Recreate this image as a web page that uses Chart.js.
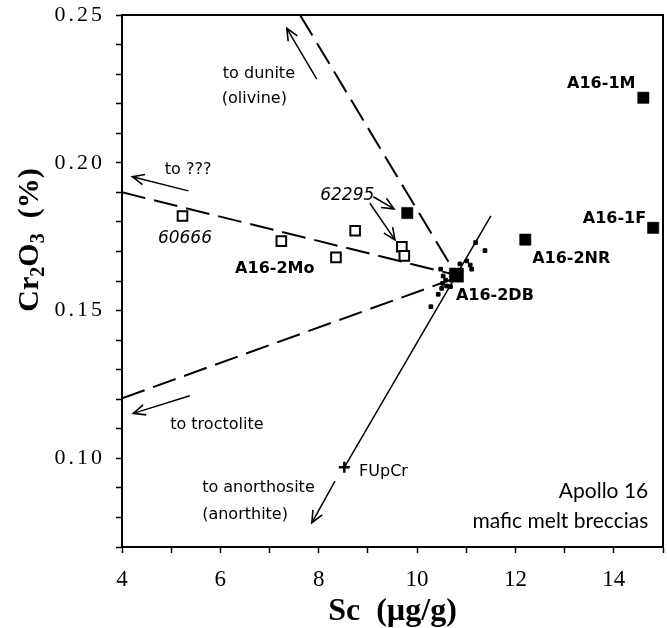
<!DOCTYPE html>
<html><head><meta charset="utf-8">
<script src="https://cdn.jsdelivr.net/npm/chart.js@4"></script>
<style>html,body{margin:0;padding:0;background:#fff}canvas{display:block}</style>
</head><body>
<canvas id="c" width="667" height="628"></canvas>
<script>
// ---- axes ----
const xMin = 4, xMax = 15, yMin = 0.07, yMax = 0.25;
const xLabelValues = [4, 6, 8, 10, 12, 14];
const yLabelValues = [0.10, 0.15, 0.20, 0.25];

// ---- samples ----
const filledSc = [14.6, 14.8, 12.2, 9.8];          // A16-1M, A16-1F, A16-2NR, 62295
const filledCr = [0.222, 0.178, 0.174, 0.183];
const dbSc = [10.8];                                 // A16-2DB
const dbCr = [0.162];
const openSc = [5.23, 7.24, 8.35, 8.74, 9.69, 9.74]; // 60666, A16-2Mo ..., 62295
const openCr = [0.182, 0.1735, 0.168, 0.177, 0.1716, 0.1685];
const smallSc = [10.48, 10.53, 10.58, 10.52, 10.60, 10.68, 10.43, 10.28, 10.50, 10.87, 11.01, 11.08, 11.11, 11.19, 11.38];
const smallCr = [0.164, 0.1617, 0.1603, 0.1592, 0.1583, 0.1581, 0.1555, 0.1513, 0.1575, 0.1658, 0.1668, 0.1654, 0.164, 0.173, 0.1703];
const fupcrSc = [8.52];
const fupcrCr = [0.097];

// ---- trend lines ----
const duniteDashSc = [7.62, 10.8],  duniteDashCr = [0.25, 0.162];
const unknownDashSc = [4, 10.8],    unknownDashCr = [0.19, 0.162];
const troctDashSc = [4, 10.7],      troctDashCr = [0.1203, 0.1605];
const mixLineSc = [11.5, 8.53],     mixLineCr = [0.182, 0.0972];

// ---- arrows (tail -> head) ----
const arrowDuniteSc = [7.96, 7.35],  arrowDuniteCr = [0.2283, 0.2455];
const arrowUnkSc = [5.35, 4.21],     arrowUnkCr = [0.1905, 0.1953];
const arrowTroctSc = [5.38, 4.23],   arrowTroctCr = [0.1212, 0.1152];
const arrowAnorSc = [8.33, 7.86],    arrowAnorCr = [0.0923, 0.0782];
const arrow62aSc = [9.11, 9.53],     arrow62aCr = [0.1885, 0.1844];
const arrow62bSc = [9.04, 9.55],     arrow62bCr = [0.1863, 0.1739];

const pts = (xs, ys) => xs.map((x, i) => ({x, y: ys[i]}));

const comic = '"DejaVu Sans", sans-serif';
const notes = [
  {t: 'to dunite', x: 6.05, y: 0.2300, font: '16px ' + comic},
  {t: '(olivine)', x: 6.03, y: 0.2216, font: '16px ' + comic},
  {t: 'to ???', x: 4.87, y: 0.1975, font: '16px ' + comic},
  {t: '62295', x: 8.03, y: 0.1889, font: 'italic 17px ' + comic},
  {t: '60666', x: 4.73, y: 0.1742, font: 'italic 17px ' + comic},
  {t: 'A16-2Mo', x: 6.30, y: 0.1641, font: 'bold 16px ' + comic},
  {t: 'A16-1M', x: 13.05, y: 0.2267, font: 'bold 16px ' + comic},
  {t: 'A16-1F', x: 13.37, y: 0.181, font: 'bold 16px ' + comic},
  {t: 'A16-2NR', x: 12.34, y: 0.1676, font: 'bold 16px ' + comic},
  {t: 'A16-2DB', x: 10.79, y: 0.1551, font: 'bold 16px ' + comic},
  {t: 'to troctolite', x: 4.98, y: 0.1113, font: '16px ' + comic},
  {t: 'FUpCr', x: 8.82, y: 0.0954, font: '16px ' + comic},
  {t: 'to anorthosite', x: 5.63, y: 0.0900, font: '16px ' + comic},
  {t: '(anorthite)', x: 5.63, y: 0.0808, font: '16px ' + comic},
  {t: 'Apollo 16', x: 14.70, y: 0.0890, font: '21px Lato, sans-serif', align: 'right'},
  {t: 'mafic melt breccias', x: 14.70, y: 0.0788, font: '21px Lato, sans-serif', align: 'right'}
];

const lineDs = (xs, ys, extra) => Object.assign({
  type: 'scatter', data: pts(xs, ys), showLine: true, pointRadius: 0,
  borderColor: '#000', borderWidth: 1.5, fill: false, order: 3
}, extra || {});

const notesPlugin = {
  id: 'notes',
  afterDatasetsDraw(chart) {
    const ctx = chart.ctx, xs = chart.scales.x, ys = chart.scales.y;
    ctx.save();
    ctx.fillStyle = '#000';
    ctx.textBaseline = 'middle';
    notes.forEach(n => {
      ctx.font = n.font;
      ctx.textAlign = n.align || 'left';
      ctx.fillText(n.t, xs.getPixelForValue(n.x), ys.getPixelForValue(n.y));
    });
    // arrow heads
    chart.data.datasets.forEach((ds, i) => {
      if (!ds.arrowHead) return;
      const p = chart.getDatasetMeta(i).data;
      const a = p[p.length - 2], b = p[p.length - 1];
      const ang = Math.atan2(b.y - a.y, b.x - a.x);
      const L = 13, h = 0.42;
      ctx.strokeStyle = '#000';
      ctx.lineWidth = 1.6;
      ctx.beginPath();
      ctx.moveTo(b.x - L * Math.cos(ang - h), b.y - L * Math.sin(ang - h));
      ctx.lineTo(b.x, b.y);
      ctx.lineTo(b.x - L * Math.cos(ang + h), b.y - L * Math.sin(ang + h));
      ctx.stroke();
    });
    ctx.restore();
  },
  afterDraw(chart) {
    const ctx = chart.ctx, a = chart.chartArea;
    ctx.save();
    ctx.strokeStyle = '#000';
    ctx.lineWidth = 2;
    ctx.beginPath();
    ctx.moveTo(a.left, a.top); ctx.lineTo(a.right, a.top); ctx.lineTo(a.right, a.bottom);
    ctx.stroke();
    // y-axis title with subscripts
    ctx.translate(28, 240);
    ctx.rotate(-Math.PI / 2);
    ctx.fillStyle = '#000';
    ctx.textBaseline = 'alphabetic';
    ctx.textAlign = 'left';
    const big = 'bold 30px "Liberation Serif", serif', small = 'bold 20px "Liberation Serif", serif';
    const parts = [['Cr', big, 0], ['2', small, 6], ['O', big, 0], ['3', small, 6], ['  (%)', big, 0]];
    let w = 0;
    parts.forEach(p => { ctx.font = p[1]; w += ctx.measureText(p[0]).width; });
    let x = -w / 2;
    parts.forEach(p => { ctx.font = p[1]; ctx.fillText(p[0], x, 10 + p[2]); x += ctx.measureText(p[0]).width; });
    ctx.restore();
  },
  beforeDraw(chart) {
    const s = chart.scales.y;
    if (s && !s._spaced) {
      const orig = s.drawLabels;
      s.drawLabels = function (area) {
        this.ctx.save();
        this.ctx.letterSpacing = '3px';
        orig.call(this, area);
        this.ctx.restore();
      };
      s._spaced = true;
    }
  }
};

new Chart(document.getElementById('c'), {
  type: 'scatter',
  data: {
    datasets: [
      lineDs(duniteDashSc, duniteDashCr, {borderDash: [24, 9], borderWidth: 2}),
      lineDs(unknownDashSc, unknownDashCr, {borderDash: [24, 9], borderWidth: 2}),
      lineDs(troctDashSc, troctDashCr, {borderDash: [24, 9], borderWidth: 2}),
      lineDs(mixLineSc, mixLineCr, {borderWidth: 1.5}),
      lineDs(arrowDuniteSc, arrowDuniteCr, {arrowHead: true}),
      lineDs(arrowUnkSc, arrowUnkCr, {arrowHead: true}),
      lineDs(arrowTroctSc, arrowTroctCr, {arrowHead: true}),
      lineDs(arrowAnorSc, arrowAnorCr, {arrowHead: true}),
      lineDs(arrow62aSc, arrow62aCr, {arrowHead: true}),
      lineDs(arrow62bSc, arrow62bCr, {arrowHead: true}),
      {data: pts(openSc, openCr), pointStyle: 'rect', pointRadius: 6.8, backgroundColor: '#fff',
       borderColor: '#000', borderWidth: 2, order: 1},
      {data: pts(smallSc, smallCr), pointStyle: 'rect', pointRadius: 2.6, backgroundColor: '#000',
       borderColor: '#000', borderWidth: 1, order: 1},
      {data: pts(filledSc, filledCr), pointStyle: 'rect', pointRadius: 8, backgroundColor: '#000',
       borderColor: '#000', borderWidth: 0.5, order: 1},
      {data: pts(dbSc, dbCr), pointStyle: 'rect', pointRadius: 10, backgroundColor: '#000',
       borderColor: '#000', borderWidth: 0.5, order: 1},
      {data: pts(fupcrSc, fupcrCr), pointStyle: 'cross', pointRadius: 5.5, backgroundColor: '#000',
       borderColor: '#000', borderWidth: 2.5, order: 1}
    ]
  },
  options: {
    responsive: false,
    animation: false,
    devicePixelRatio: 1,
    layout: {autoPadding: false, padding: {top: 15, right: 4, left: 0, bottom: 0}},
    plugins: {legend: {display: false}, tooltip: {enabled: false}},
    scales: {
      x: {
        type: 'linear', min: xMin, max: xMax,
        ticks: {
          stepSize: 1, autoSkip: false, maxRotation: 0, color: '#000', padding: 13,
          font: {family: '"Liberation Serif", serif', size: 23},
          callback: v => xLabelValues.includes(v) ? String(v) : ''
        },
        grid: {display: true, drawOnChartArea: false, drawTicks: true, tickLength: 6, color: '#000', tickWidth: 1.5},
        border: {display: true, color: '#000', width: 2},
        title: {display: true, text: 'Sc  (\u00b5g/g)', color: '#000', padding: {top: 0, bottom: -3},
                font: {family: '"Liberation Serif", serif', size: 32, weight: 'bold'}},
        afterFit: s => { s.height = 81; s.paddingLeft = 0; s.paddingRight = 0; }
      },
      y: {
        type: 'linear', min: yMin, max: yMax,
        ticks: {
          stepSize: 0.01, autoSkip: false, color: '#000', padding: 11,
          font: {family: '"Liberation Serif", serif', size: 22},
          callback: v => { const m = yLabelValues.find(l => Math.abs(l - v) < 1e-6); return m === undefined ? '' : m.toFixed(2); }
        },
        grid: {display: true, drawOnChartArea: false, drawTicks: true, tickLength: 6, color: '#000', tickWidth: 1.5},
        border: {display: true, color: '#000', width: 2},
        afterFit: s => { s.width = 122; s.paddingTop = 0; s.paddingBottom = 0; }
      }
    }
  },
  plugins: [notesPlugin]
});
</script>
</body></html>
